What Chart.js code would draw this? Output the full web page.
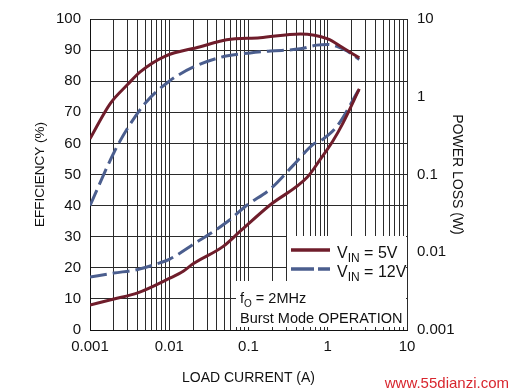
<!DOCTYPE html>
<html>
<head>
<meta charset="utf-8">
<script src="https://cdn.jsdelivr.net/npm/chart.js@4.4.1/dist/chart.umd.min.js"></script>
<style>
  html, body { margin: 0; padding: 0; background: #fff; }
  #wrap { width: 512px; height: 392px; position: relative; }
</style>
</head>
<body>
<div id="wrap"><canvas id="chart" width="512" height="392"></canvas></div>
<script>
// load current in A, efficiency in %, power loss in W
const eff5Current  = [0.001, 0.0018, 0.003, 0.0043, 0.0088, 0.024, 0.053, 0.14, 0.45, 1, 1.5, 2, 2.5];
const eff5Values   = [61.5, 72.8, 79, 83, 88, 91, 93.3, 94, 95.2, 93.6, 91, 89, 87.5];
const eff12Current = [0.001, 0.002, 0.003, 0.005, 0.01, 0.02, 0.05, 0.105, 0.19, 0.45, 0.73, 1, 1.3, 1.75, 2.5];
const eff12Values  = [40, 57, 65, 73, 80, 84.5, 88, 89.1, 89.7, 90.4, 91.6, 91.8, 91.2, 89.7, 87];
const loss5Current  = [0.001, 0.002, 0.004, 0.01, 0.015, 0.02, 0.048, 0.078, 0.187, 0.55, 0.8, 1.16, 1.55, 2.5];
const loss5Values   = [0.0021, 0.0025, 0.003, 0.0046, 0.0057, 0.0071, 0.0119, 0.0185, 0.0405, 0.092, 0.155, 0.27, 0.455, 1.26];
const loss12Current = [0.001, 0.002, 0.004, 0.0076, 0.01, 0.02, 0.054, 0.096, 0.187, 0.364, 0.65, 0.85, 1.31, 2.5];
const loss12Values  = [0.0048, 0.0054, 0.006, 0.0073, 0.0081, 0.0126, 0.0247, 0.0405, 0.0646, 0.13, 0.242, 0.28, 0.417, 1.26];

const currentTicks = [0.001, 0.01, 0.1, 1, 10];
const lossTicks = [0.001, 0.01, 0.1, 1, 10];
const seriesNames = [["V", "IN", " = 5V"], ["V", "IN", " = 12V"]];
const noteLines = [["f", "O", " = 2MHz"], ["Burst Mode OPERATION", "", ""]];

const RED = "#6f1d2b";
const BLUE = "#4b5e8e";
const FONT = "'Liberation Sans Narrow', 'Liberation Sans', Arial, sans-serif";

function pts(xs, ys){
    return xs.map((x, i) => ({x: x, y: ys[i]}));
}

// text with a subscript part: [main, sub, rest]
function drawSub(ctx, parts, x, y, size){
    ctx.font = size + "px " + FONT;
    ctx.fillText(parts[0], x, y);
    x += ctx.measureText(parts[0]).width;
    if (parts[1]) {
        ctx.font = Math.round(size * 0.72) + "px " + FONT;
        ctx.fillText(parts[1], x, y + 4);
        x += ctx.measureText(parts[1]).width;
    }
    ctx.font = size + "px " + FONT;
    ctx.fillText(parts[2], x, y);
}

const notes = {
    id: "notes",
    beforeDatasetsDraw(chart){
        const ctx = chart.ctx;
        const a = chart.chartArea;
        ctx.save();
        ctx.fillStyle = "#fff";
        // legend box and note box cover the grid
        ctx.fillRect(a.right - 120, a.bottom - 94, 119, 46);
        ctx.fillRect(a.right - 171, a.bottom - 49, 170, 46);
        ctx.restore();
    },
    afterDraw(chart){
        const ctx = chart.ctx;
        const a = chart.chartArea;
        ctx.save();
        ctx.lineWidth = 3.5;
        ctx.strokeStyle = RED;
        ctx.beginPath();
        ctx.moveTo(a.right - 116, a.bottom - 80);
        ctx.lineTo(a.right - 77, a.bottom - 80);
        ctx.stroke();
        ctx.strokeStyle = BLUE;
        ctx.setLineDash([23, 4]);
        ctx.beginPath();
        ctx.moveTo(a.right - 116, a.bottom - 61);
        ctx.lineTo(a.right - 77, a.bottom - 61);
        ctx.stroke();
        ctx.setLineDash([]);

        ctx.fillStyle = "#111";
        ctx.textBaseline = "alphabetic";
        ctx.textAlign = "left";
        drawSub(ctx, seriesNames[0], a.right - 70, a.bottom - 72, 16);
        drawSub(ctx, seriesNames[1], a.right - 70, a.bottom - 53, 16);
        drawSub(ctx, noteLines[0], a.right - 167, a.bottom - 27, 14.5);
        drawSub(ctx, noteLines[1], a.right - 167, a.bottom - 7, 14.5);

        ctx.fillStyle = "#d8262e";
        ctx.textAlign = "right";
        ctx.font = "15px " + FONT;
        ctx.fillText("www.55dianzi.com", 509, 388);
        ctx.restore();
    }
};

const ctx = document.getElementById("chart");

const lossChart = new Chart(ctx, {
    type: "line",
    data: {
        datasets: [
            { data: pts(eff5Current, eff5Values), yAxisID: "yEff", borderColor: RED, borderWidth: 3 },
            { data: pts(eff12Current, eff12Values), yAxisID: "yEff", borderColor: BLUE, borderWidth: 3, borderDash: [17, 6] },
            { data: pts(loss5Current, loss5Values), yAxisID: "yLoss", borderColor: RED, borderWidth: 3 },
            { data: pts(loss12Current, loss12Values), yAxisID: "yLoss", borderColor: BLUE, borderWidth: 3, borderDash: [17, 6] }
        ]
    },
    options: {
        responsive: false,
        animation: false,
        layout: { padding: { top: 14, left: 0, right: 0, bottom: 0 } },
        elements: {
            point: { radius: 0 },
            line: { cubicInterpolationMode: "monotone", fill: false }
        },
        plugins: {
            legend: { display: false },
            tooltip: { enabled: false }
        },
        scales: {
            x: {
                type: "logarithmic",
                min: 0.001,
                max: 10,
                afterBuildTicks: axis => {
                    const t = [];
                    for (let i = 0; i < currentTicks.length - 1; i++) {
                        for (let k = 1; k < 10; k++) t.push({ value: k * currentTicks[i] });
                    }
                    t.push({ value: currentTicks[currentTicks.length - 1] });
                    axis.ticks = t;
                },
                afterFit: s => { s.height = 62; },
                grid: { color: "#2b2b2b", lineWidth: 1, drawTicks: false },
                border: { color: "#111", width: 1 },
                ticks: {
                    autoSkip: false, maxRotation: 0, padding: 8, color: "#111",
                    font: { family: FONT, size: 15 },
                    callback: v => currentTicks.some(c => Math.abs(c - v) < c * 1e-6) ? String(v) : ""
                },
                title: {
                    display: true, text: "LOAD CURRENT (A)", color: "#111",
                    font: { family: FONT, size: 14 }, padding: { top: 0, bottom: 5 }
                }
            },
            yEff: {
                type: "linear",
                position: "left",
                min: 0,
                max: 100,
                afterFit: s => { s.width = 90; },
                grid: { color: "#2b2b2b", lineWidth: 1, drawTicks: false },
                border: { color: "#111", width: 1 },
                ticks: { stepSize: 10, padding: 9, color: "#111", font: { family: FONT, size: 15 } },
                title: {
                    display: true, text: "EFFICIENCY (%)", color: "#111",
                    font: { family: FONT, size: 13.5 }, padding: { top: 32, bottom: 0 }
                }
            },
            yLoss: {
                type: "logarithmic",
                position: "right",
                min: 0.001,
                max: 10,
                afterBuildTicks: axis => { axis.ticks = lossTicks.map(v => ({ value: v })); },
                afterFit: s => { s.width = 105; },
                grid: { display: false, drawTicks: false },
                border: { display: false },
                ticks: {
                    padding: 10, color: "#111", font: { family: FONT, size: 15 },
                    callback: v => String(v)
                },
                title: {
                    display: true, text: "POWER LOSS (W)", color: "#111",
                    font: { family: FONT, size: 14 }, padding: { top: 47, bottom: 0 }
                }
            }
        }
    },
    plugins: [notes]
});
</script>
</body>
</html>
